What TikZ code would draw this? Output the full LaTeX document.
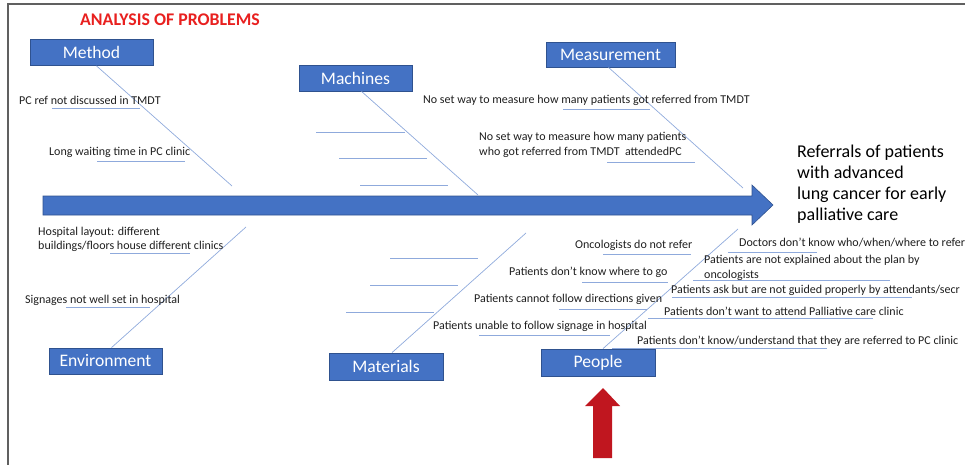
\documentclass[tikz,border=0pt]{standalone}
\usepackage{fontspec}
\setmainfont{Carlito}
\usepackage{tikz}
\usetikzlibrary{positioning,calc}

\definecolor{boxblue}{HTML}{4472C4}
\definecolor{boxedge}{HTML}{2F528F}
\definecolor{bonecol}{HTML}{8FAADC}
\definecolor{titlered}{HTML}{E8201F}
\definecolor{arrowred}{HTML}{C0161F}
\definecolor{txtcol}{HTML}{1E1E1E}
\definecolor{framecol}{HTML}{606060}

\begin{document}
\begin{tikzpicture}[
    x=1pt, y=-1pt,
    category/.style={rectangle, draw=boxedge, fill=boxblue, line width=0.8pt, text=white, inner sep=0pt, font=\fontsize{17.6}{18}\selectfont},
    cause/.style={anchor=west, inner sep=0pt, text=txtcol, align=left, font=\fontsize{12}{14.5}\selectfont},
    bone/.style={draw=bonecol, line width=0.7pt},
    rib/.style={draw=bonecol, line width=0.9pt}
]
    \useasboundingbox (0,0) rectangle (965,465);

    % Frame
    \draw[framecol, line width=1.5pt] (8,465) -- (8,4) -- (965,4);

    % Title
    \node[text=titlered, font=\bfseries\fontsize{17.8}{19}\selectfont] (title) at (170,20) {ANALYSIS OF PROBLEMS};

    % Spine arrow
    \fill[boxblue, draw=boxedge, line width=0.6pt] (43,196) -- (752,196) -- (752,185) -- (773,205) -- (752,225) -- (752,215) -- (43,215) -- cycle;

    % Effect
    \node[anchor=west, inner sep=0pt, text=black, align=left, font=\fontsize{18}{21}\selectfont] (effect) at (797,184) {Referrals of patients\\with advanced\\lung cancer for early\\palliative care};

    % Categories
    \node[category, minimum width=123pt, minimum height=26pt] (method) at (91.5,52.5) {Method};
    \node[category, minimum width=113pt, minimum height=26pt] (machines) at (355.5,78) {Machines};
    \node[category, minimum width=129pt, minimum height=25pt] (measurement) at (610.5,54.5) {Measurement};
    \node[category, minimum width=113pt, minimum height=26pt] (environment) at (105.5,361) {Environment};
    \node[category, minimum width=114pt, minimum height=27pt] (materials) at (386,366.5) {Materials};
    \node[category, minimum width=114pt, minimum height=27pt] (people) at (598,362.5) {People};

    % Bone ends on the spine
    \coordinate (methodend) at (232,186);
    \coordinate (machinesend) at (478,195);
    \coordinate (measurementend) at (743,188);
    \coordinate (environmentend) at (246,227);
    \coordinate (materialsend) at (526,233);
    \coordinate (peopleend) at (738,229);

    % Bones
    \draw[bone] ([xshift=5pt]method.south) -- (methodend);
    \draw[bone] ([xshift=6pt]machines.south) -- (machinesend);
    \draw[bone] ([xshift=-2pt]measurement.south) -- (measurementend);
    \draw[bone] ([xshift=6pt]environment.north) -- (environmentend);
    \draw[bone] ([xshift=6pt]materials.north) -- (materialsend);
    \draw[bone] ([xshift=5pt]people.north) -- (peopleend);

    % Method causes
    \node[cause] (pcref) at (19,100) {PC ref not discussed in TMDT};
    \node[cause] (waiting) at (49,152) {Long waiting time in PC clinic};

    % Measurement causes
    \node[cause] (nomeasure) at (423,100) {No set way to measure how many patients got referred from TMDT};
    \node[cause] (noattend) at (479,145) {No set way to measure how many patients\\who got referred from TMDT\ \ attendedPC};

    % Environment causes
    \node[cause] (layout) at (38,239.5) {Hospital layout: different\\buildings/floors house different clinics};
    \node[cause] (signages) at (25,300) {Signages not well set in hospital};

    % People causes, left of the bone
    \node[cause] (oncologists) at (575,245) {Oncologists do not refer};
    \node[cause] (wheretogo) at (509,272) {Patients don't know where to go};
    \node[cause] (directions) at (474,299) {Patients cannot follow directions given};
    \node[cause] (signage) at (433,326) {Patients unable to follow signage in hospital};

    % People causes, right of the bone
    \node[cause] (doctors) at (739,243) {Doctors don't know who/when/where to refer};
    \node[cause] (explained) at (704,268) {Patients are not explained about the plan by\\oncologists};
    \node[cause] (guided) at (671,290) {Patients ask but are not guided properly by attendants/secr};
    \node[cause] (wantattend) at (664,311) {Patients don't want to attend Palliative care clinic};
    \node[cause] (understand) at (637,341) {Patients don't know/understand that they are referred to PC clinic};

    % Ribs
    \foreach \xa/\xb/\yy in {52/140/108, 97/185/161,
        316/405/132, 339/427/158, 360/448/185,
        563/650/109, 607/695/162,
        110/190/253, 66/150/307,
        390/478/258.5, 370/458/285.5, 346/434/312.5,
        603/691/254, 582/668/282, 559/647/309, 479/610/335,
        728/817/252, 693/890/280, 672/912/297, 648/873/318, 612/827/348}
        \draw[rib] (\xa,\yy) -- (\xb,\yy);

    % Red pointer
    \fill[arrowred] (593,458) -- (593,406) -- (585,406) -- (603,388) -- (620,406) -- (612,406) -- (612,458) -- cycle;
\end{tikzpicture}
\end{document}
